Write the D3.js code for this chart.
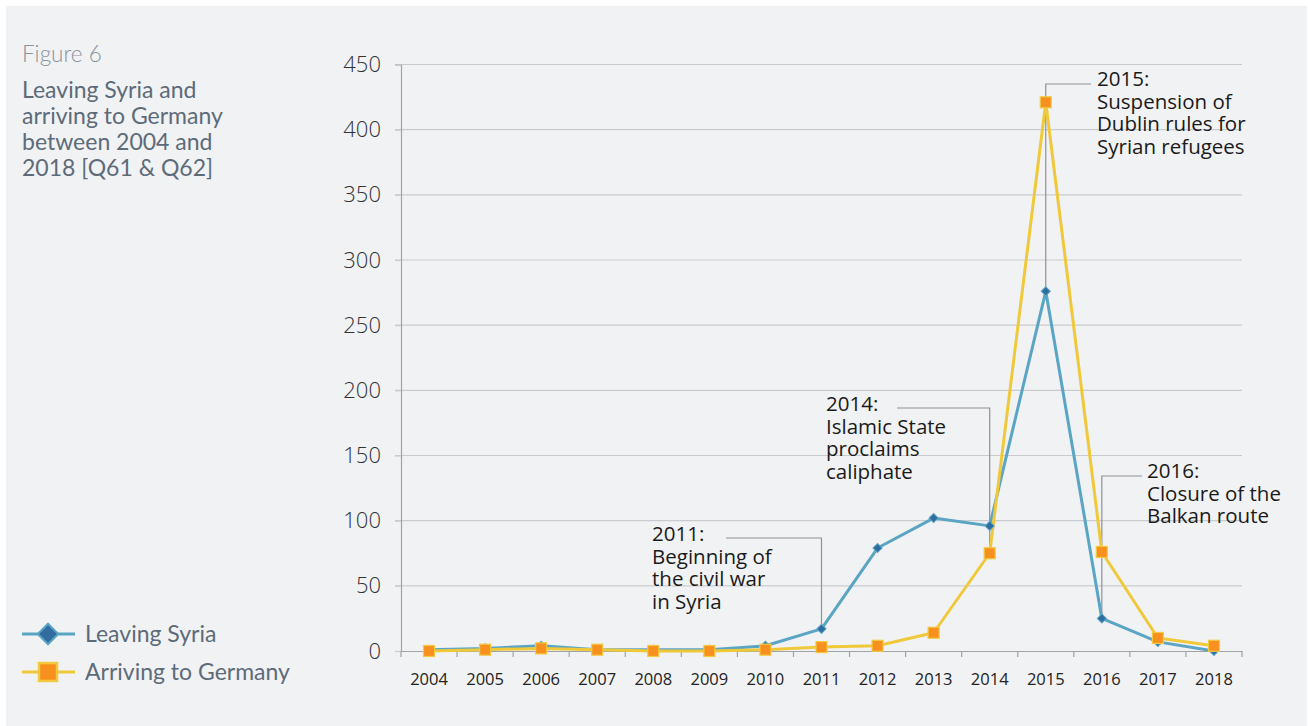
<!DOCTYPE html>
<html>
<head>
<meta charset="utf-8">
<script src="https://cdn.jsdelivr.net/npm/d3@7/dist/d3.min.js"></script>
<style>
  html, body { margin: 0; padding: 0; background: #ffffff; }
  svg { display: block; }
</style>
</head>
<body>
<svg id="chart" width="1308" height="726"></svg>
<script>
// ---- Data ----
const years = ["2004","2005","2006","2007","2008","2009","2010","2011","2012","2013","2014","2015","2016","2017","2018"];
const leavingSyria = [1, 2, 4, 1, 1, 1, 4, 17, 79, 102, 96, 276, 25, 7, 0];
const arrivingGermany = [0, 1, 2, 1, 0, 0, 1, 3, 4, 14, 75, 421, 76, 10, 4];
const yTicks = [0, 50, 100, 150, 200, 250, 300, 350, 400, 450];
const seriesNames = ["Leaving Syria", "Arriving to Germany"];
const titleFigure = "Figure 6";
const titleLines = ["Leaving Syria and", "arriving to Germany", "between 2004 and", "2018 [Q61 & Q62]"];
const annotations = [
  { year: "2011", value: 17, lines: ["2011:", "Beginning of", "the civil war", "in Syria"], tx: 652, ty: 541, lineY: 538, lineX0: 726 },
  { year: "2014", value: 75, lines: ["2014:", "Islamic State", "proclaims", "caliphate"], tx: 826, ty: 411, lineY: 408, lineX0: 897 },
  { year: "2015", value: 276, lines: ["2015:", "Suspension of", "Dublin rules for", "Syrian refugees"], tx: 1097, ty: 86, lineY: 84, lineX0: 1091 },
  { year: "2016", value: 25, lines: ["2016:", "Closure of the", "Balkan route"], tx: 1147, ty: 478, lineY: 476, lineX0: 1142 }
];

// ---- Layout ----
const svg = d3.select("#chart");
const W = 1308, H = 726;
const plot = { left: 401, right: 1242, top: 64.5, bottom: 651 };

svg.append("rect").attr("x", 6).attr("y", 6).attr("width", W - 7).attr("height", H - 6).attr("fill", "#f1f2f4");

const x = d3.scaleBand().domain(years).range([plot.left, plot.right]).paddingInner(0).paddingOuter(0);
const y = d3.scaleLinear().domain([0, 450]).range([plot.bottom, plot.top]);
const cx = d => x(d) + x.bandwidth() / 2;

const fontMain = "'Open Sans', 'Noto Sans', sans-serif";
const fontTitle = "Lato, 'Open Sans', sans-serif";

// Gridlines
const grid = svg.append("g");
grid.selectAll("line").data(yTicks.filter(t => t > 0)).join("line")
  .attr("x1", plot.left - 6).attr("x2", plot.right)
  .attr("y1", d => y(d)).attr("y2", d => y(d))
  .attr("stroke", "#c9cbce").attr("stroke-width", 1.2);

// Y axis
const yAxis = svg.append("g").attr("transform", `translate(${plot.left},0)`)
  .call(d3.axisLeft(y).tickValues(yTicks).tickSize(6).tickPadding(14));
yAxis.select(".domain").attr("stroke", "#a0a3a7").attr("stroke-width", 1.2);
yAxis.selectAll(".tick line").attr("stroke", "#c9cbce").attr("stroke-width", 1.2);
yAxis.selectAll(".tick text").attr("font-family", fontMain).attr("font-size", 22)
  .attr("font-weight", 300).attr("fill", "#333");

// X axis
const xAxis = svg.append("g").attr("transform", `translate(0,${plot.bottom})`)
  .call(d3.axisBottom(x).tickSize(0).tickPadding(22));
xAxis.select(".domain").attr("stroke", "#a0a3a7").attr("stroke-width", 1.2);
xAxis.selectAll(".tick text").attr("font-family", fontMain).attr("font-size", 16.5).attr("fill", "#222");
// x tick marks at band boundaries
const bounds = years.map(d => x(d)).concat([plot.right]);
svg.append("g").selectAll("line").data(bounds).join("line")
  .attr("x1", d => d).attr("x2", d => d)
  .attr("y1", plot.bottom).attr("y2", plot.bottom + 6)
  .attr("stroke", "#a0a3a7").attr("stroke-width", 1.2);

// Annotation leader lines (drawn under series)
const annLines = svg.append("g");
annotations.forEach(a => {
  const px = cx(a.year);
  annLines.append("path")
    .attr("d", `M${a.lineX0},${a.lineY}H${px}V${y(a.value)}`)
    .attr("fill", "none").attr("stroke", "#8e9196").attr("stroke-width", 1.2);
});

// Series
const line = d3.line().x((d, i) => cx(years[i])).y(d => y(d));
svg.append("path").datum(leavingSyria).attr("d", line)
  .attr("fill", "none").attr("stroke", "#5aa5c4").attr("stroke-width", 3).attr("stroke-linejoin", "round");
svg.append("path").datum(arrivingGermany).attr("d", line)
  .attr("fill", "none").attr("stroke", "#f0c93b").attr("stroke-width", 3).attr("stroke-linejoin", "round");

svg.append("g").selectAll("path").data(leavingSyria).join("path")
  .attr("transform", (d, i) => `translate(${cx(years[i])},${y(d)}) rotate(45)`)
  .attr("d", d3.symbol().type(d3.symbolSquare).size(42))
  .attr("fill", "#2f6da0").attr("stroke", "#5aa5c4").attr("stroke-width", 1);

svg.append("g").selectAll("rect").data(arrivingGermany).join("rect")
  .attr("x", (d, i) => cx(years[i]) - 5.5).attr("y", d => y(d) - 5.5)
  .attr("width", 11).attr("height", 11)
  .attr("fill", "#f7901e").attr("stroke", "#f3c940").attr("stroke-width", 1.2);

// Annotation text
const annText = svg.append("g");
annotations.forEach(a => {
  const t = annText.append("text").attr("font-family", fontMain).attr("font-size", 20.5).attr("fill", "#1a1a1a");
  a.lines.forEach((l, i) => {
    t.append("tspan").attr("x", a.tx).attr("y", a.ty + i * 22.5).text(l);
  });
});

// Titles
svg.append("text").attr("x", 22).attr("y", 62).attr("font-family", fontTitle).attr("font-weight", 300)
  .attr("font-size", 22.5).attr("fill", "#8a939c").text(titleFigure);
const tt = svg.append("text").attr("font-family", fontTitle).attr("font-size", 23).attr("fill", "#5d6b79");
titleLines.forEach((l, i) => tt.append("tspan").attr("x", 22).attr("y", 98 + i * 26).text(l));

// Legend
const leg = svg.append("g");
[0, 1].forEach(i => {
  const ly = 634 + i * 38;
  leg.append("line").attr("x1", 22).attr("x2", 75).attr("y1", ly).attr("y2", ly)
    .attr("stroke", i === 0 ? "#5aa5c4" : "#f0c93b").attr("stroke-width", 3);
  if (i === 0) {
    leg.append("path").attr("transform", `translate(48,${ly}) rotate(45)`)
      .attr("d", d3.symbol().type(d3.symbolSquare).size(210))
      .attr("fill", "#336c9f").attr("stroke", "#5aa5c4").attr("stroke-width", 2);
  } else {
    leg.append("rect").attr("x", 48 - 9).attr("y", ly - 9).attr("width", 18).attr("height", 18)
      .attr("fill", "#f7901e").attr("stroke", "#f3c940").attr("stroke-width", 2.5);
  }
  leg.append("text").attr("x", 85).attr("y", ly + 8).attr("font-family", fontTitle)
    .attr("font-size", 23).attr("fill", "#5d6b79").text(seriesNames[i]);
});
</script>
</body>
</html>
